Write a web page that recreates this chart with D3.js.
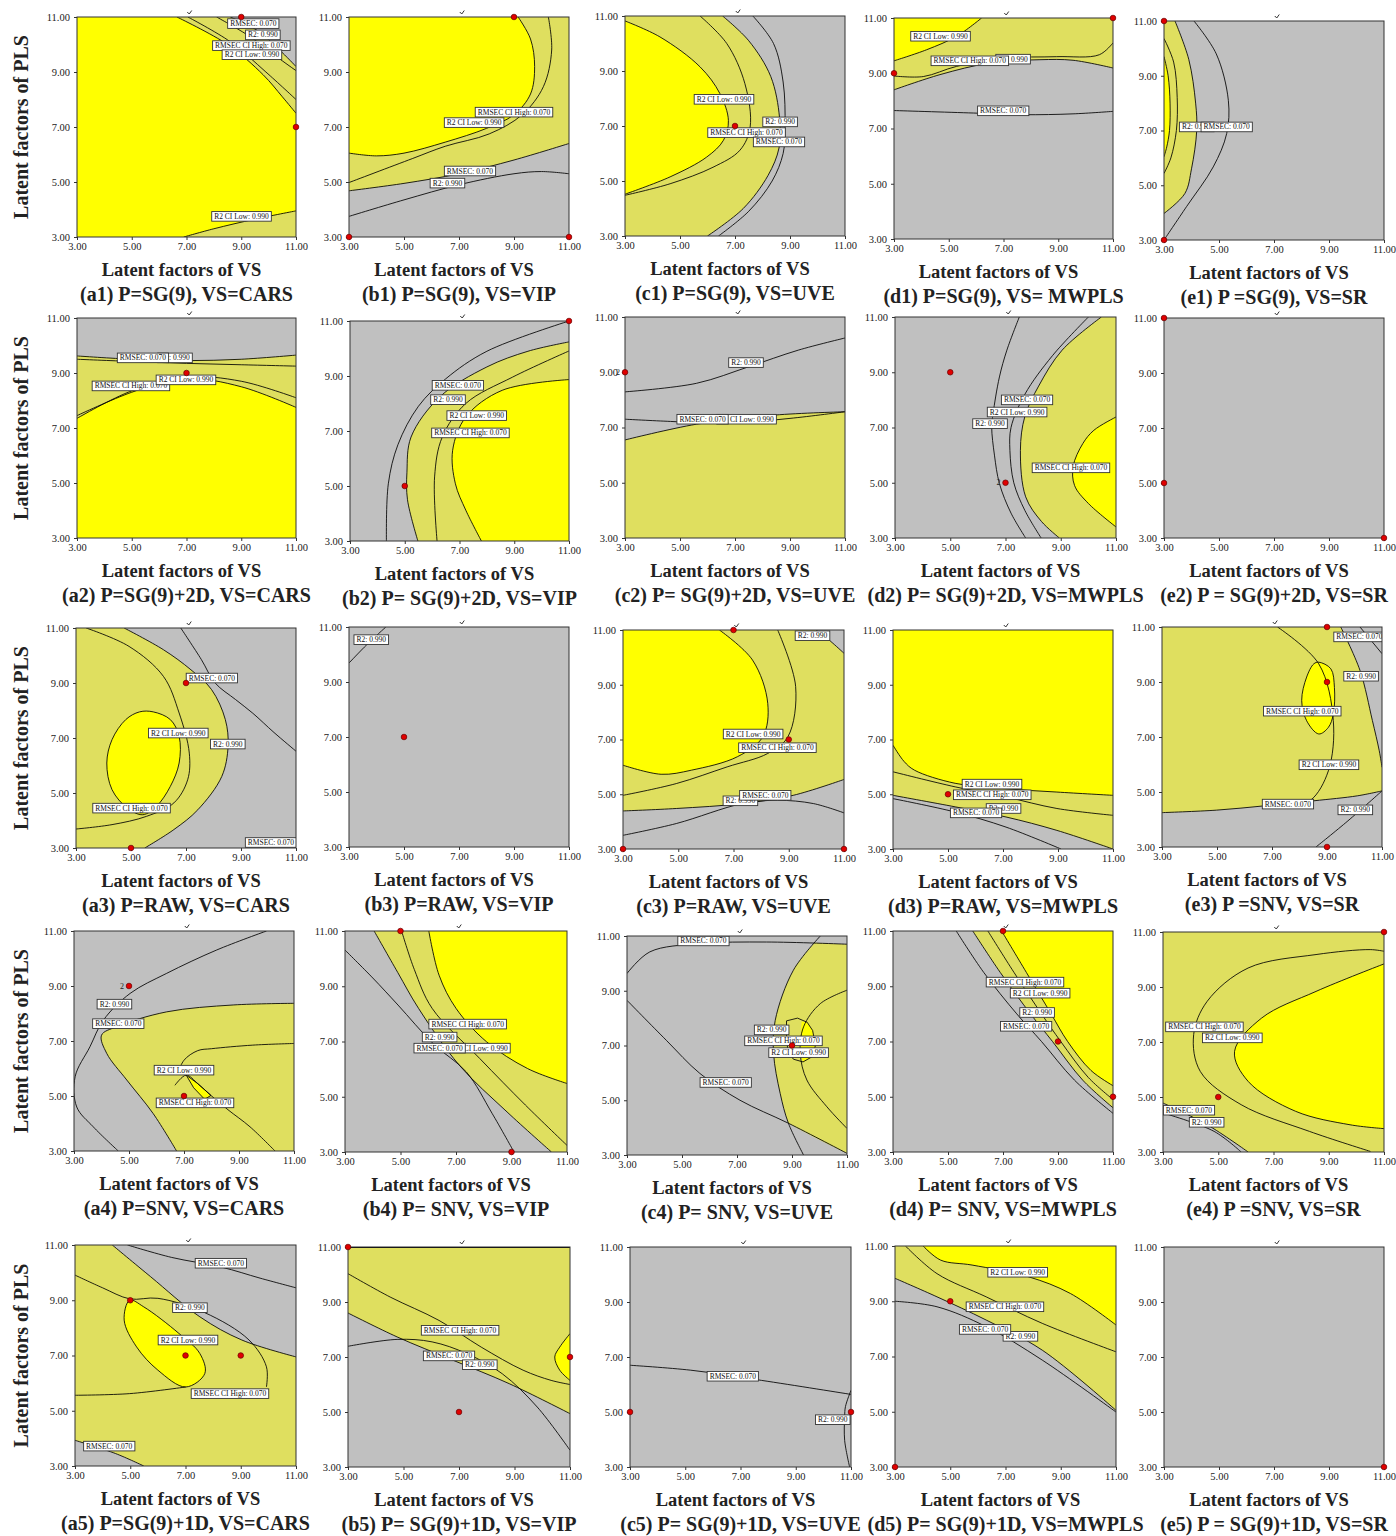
<!DOCTYPE html>
<html><head><meta charset="utf-8">
<script src="https://cdn.jsdelivr.net/npm/d3@7"></script>
<style>body{margin:0;background:#fff}svg{display:block}</style>
</head><body><svg id="chart" width="1396" height="1536"></svg>
<script>
// ================= DATA =================
const panelIds = ["a1","b1","c1","d1","e1","a2","b2","c2","d2","e2","a3","b3","c3","d3","e3","a4","b4","c4","d4","e4","a5","b5","c5","d5","e5"];
const panelTitles = [
 "(a1) P=SG(9), VS=CARS","(b1) P=SG(9), VS=VIP","(c1) P=SG(9), VS=UVE","(d1) P=SG(9), VS= MWPLS","(e1) P =SG(9), VS=SR",
 "(a2) P=SG(9)+2D, VS=CARS","(b2) P= SG(9)+2D, VS=VIP","(c2) P= SG(9)+2D, VS=UVE","(d2) P= SG(9)+2D, VS=MWPLS","(e2) P = SG(9)+2D, VS=SR",
 "(a3) P=RAW, VS=CARS","(b3) P=RAW, VS=VIP","(c3) P=RAW, VS=UVE","(d3) P=RAW, VS=MWPLS","(e3) P =SNV, VS=SR",
 "(a4) P=SNV, VS=CARS","(b4) P= SNV, VS=VIP","(c4) P= SNV, VS=UVE","(d4) P= SNV, VS=MWPLS","(e4) P =SNV, VS=SR",
 "(a5) P=SG(9)+1D, VS=CARS","(b5) P= SG(9)+1D, VS=VIP","(c5) P= SG(9)+1D, VS=UVE","(d5) P= SG(9)+1D, VS=MWPLS","(e5) P = SG(9)+1D, VS=SR"];
const xAxisTitle = "Latent factors of VS";
const yAxisTitle = "Latent factors of PLS";
const axisTicks = [3, 5, 7, 9, 11];
const axisDomain = [3, 11];

// design points (VS factors, PLS factors)
const designPoints = {
 a1:[[9,11],[11,7]], b1:[[9,11],[3,3],[11,3]], c1:[[7,7]], d1:[[3,9],[11,11]], e1:[[3,11],[3,3]],
 a2:[[7,9]], b2:[[11,11],[5,5]], c2:[[3,9]], d2:[[5,9],[7,5]], e2:[[3,11],[3,5],[11,3]],
 a3:[[7,9],[5,3]], b3:[[5,7]], c3:[[7,11],[9,7],[3,3],[11,3]], d3:[[5,5]], e3:[[9,11],[9,9],[9,3]],
 a4:[[5,9],[7,5]], b4:[[5,11],[9,3]], c4:[[9,7]], d4:[[7,11],[9,7],[11,5]], e4:[[11,11],[5,5]],
 a5:[[5,9],[7,7],[9,7]], b5:[[3,11],[7,5],[11,7]], c5:[[3,5],[11,5]], d5:[[3,3],[5,9]], e5:[[11,3]]
};
// replicated design points (marked "2")
const replicateMarks = { c2:[[3,9]], d2:[[7,5]], a4:[[5,9]] };

// background class of each panel: Y = all criteria met, L = partly met, G = not met
const backgrounds = {
 a1:"Y", b1:"L", c1:"G", d1:"G", e1:"G",
 a2:"Y", b2:"G", c2:"G", d2:"G", e2:"G",
 a3:"G", b3:"G", c3:"L", d3:"Y", e3:"L",
 a4:"G", b4:"G", c4:"G", d4:"G", e4:"L",
 a5:"L", b5:"L", c5:"G", d5:"G", e5:"G"
};

// contour lines, in data units (VS, PLS)
const contourLines = {
 a1:{ CL:[[6.65,11],[8.5,10.0],[9.8,8.9],[10.5,8.1],[11,7.5]],
      CH:[[7.05,11],[8.6,10.1],[9.9,9.0],[11,8.0]],
      R2:[[8.1,11],[9.3,10.3],[10.3,9.55],[11,9.05]],
      RM:[[8.6,11],[9.6,10.5],[10.4,9.8],[11,9.2]],
      CL2:[[6.9,3],[8.0,3.3],[9.5,3.65],[11,3.95]] },
 b1:{ CL:[[9.15,11],[9.6,10.2],[9.75,9.2],[9.6,8.2],[9.0,7.45],[8.0,6.95],[6.5,6.45],[5,6.05],[4,5.95],[3,6.05]],
      CH:[[10.25,11],[10.37,9.8],[10.07,8.47],[9.3,7.45],[8.1,6.75],[6.5,6.3],[5.3,5.85],[3,4.98]],
      RM:[[3,4.68],[5,4.95],[7,5.3],[9,5.8],[11,6.4]],
      R2:[[3,3.75],[5,4.35],[7,4.9],[9,5.3],[10,5.38],[11,5.3]] },
 c1:{ CL:[[3,10.82],[4.27,10.24],[5.73,9.15],[6.45,8.18],[6.76,7.2],[6.58,6.48],[5.97,5.87],[4.64,5.15],[3,4.52]],
      CH:[[5.73,11],[6.7,10],[7.36,8.54],[7.55,6.96],[7.18,6.12],[6.2,5.5],[4.64,4.9],[3,4.48]],
      RM:[[6.55,11],[7.5,10.1],[8.3,8.8],[8.62,7.3],[8.6,6.2],[8.2,5.2],[7.3,4.0],[6.0,3]],
      R2:[[7.65,11],[8.4,10],[8.75,8.6],[8.82,7.0],[8.75,6.0],[8.35,5.0],[7.5,3.9],[6.4,3]] },
 d1:{ CL:[[3,9.45],[4.19,9.85],[5.29,10.34],[6.2,11]],
      CH:[[3,8.9],[4.07,8.88],[5.29,9.25],[7.1,9.55],[8.93,9.6],[10.5,9.67],[11,10.1]],
      R2:[[3,8.4],[4.68,8.95],[6.5,9.37],[8.33,9.49],[9.54,9.47],[11,9.19]],
      RM:[[3,7.65],[5.9,7.56],[7.72,7.5],[9.54,7.53],[11,7.62]] },
 e1:{ RM:[[4.09,11],[4.9,9.8],[5.34,8.1],[5.28,6.89],[4.79,5.67],[3.82,4.22],[3,3]],
      R2:[[3.4,11],[3.9,9.6],[4.15,8.0],[4.19,7.0],[4.0,5.6],[3.76,4.7],[3,3.97]],
      CH:[[3,10.36],[3.35,9.5],[3.48,8.2],[3.45,7.0],[3.25,6.0],[3,5.43]],
      CL:[[3,9.7],[3.15,9.0],[3.22,8.0],[3.2,7.0],[3.1,6.4],[3,6.04]] },
 a2:{ RM:[[3,9.62],[5,9.5],[7,9.45],[9,9.5],[11,9.65]],
      R2:[[3,9.5],[5,9.42],[7,9.35],[9,9.3],[11,9.25]],
      CH:[[3,7.45],[5,8.3],[7,8.85],[9,8.7],[11,8.1]],
      CL:[[3,7.35],[5,8.35],[7,8.8],[9,8.5],[11,7.75]] },
 b2:{ R2:[[4.33,3],[4.4,5.08],[4.75,6.5],[5.5,7.9],[6.5,8.9],[8.0,9.9],[11,11]],
      RM:[[5.48,3],[5.1,4.5],[5.08,5.5],[5.23,6.78],[6.28,8.24],[8.0,9.33],[9.5,9.9],[11,10.24]],
      CL:[[6.18,3],[6.09,5.33],[6.37,6.78],[7.23,8.0],[8.94,8.96],[11,9.91]],
      CH:[[7.8,3],[7.23,4.12],[6.85,5.08],[6.75,6.3],[7.23,7.51],[8.56,8.48],[11,8.87]] },
 c2:{ R2:[[3,8.29],[5.6,8.6],[7.5,9.2],[9.3,9.8],[11,10.24]],
      RM:[[3,7.3],[4.65,7.22],[6.73,7.15],[9,7.33],[11,7.57]],
      CL:[[3,6.55],[5.6,7.12],[8.44,7.45],[11,7.57]] },
 d2:{ R2:[[7.5,11],[7.05,9.8],[6.78,8.83],[6.55,7.5],[6.5,7.02],[6.6,6.0],[6.78,4.97],[7.2,3.9],[7.73,3]],
      CL:[[10.0,11],[8.7,9.6],[7.7,8.2],[7.2,7.0],[7.16,6.17],[7.3,5.0],[7.7,4.0],[8.29,3]],
      RM:[[10.47,11],[9.05,9.8],[8.2,8.5],[7.7,7.4],[7.54,6.17],[7.73,4.49],[8.3,3.6],[8.95,3]],
      CH:[[11,7.38],[10.2,6.9],[9.8,6.42],[9.45,5.6],[9.5,4.9],[10,4.25],[11,3.4]] },
 e2:{},
 a3:{ R2:[[4.75,11],[6.18,10.21],[7.18,9.48],[7.93,8.76],[8.43,7.67],[8.53,6.7],[8.3,5.6],[7.43,4.39],[6.56,3.67],[5.5,3]],
      RM:[[6.81,11],[7.56,9.85],[8.06,9.0],[8.8,8.4],[9.43,7.9],[10.2,7.2],[11,6.52]],
      CL:[[3.37,11],[4.93,10.33],[6.18,9.24],[6.75,7.91],[7.12,6.45],[7.06,5.48],[6.56,4.64],[5.56,4.15],[4.31,3.85],[3,3.69]],
      CH:[[5.81,7.95],[6.43,7.67],[6.75,7.06],[6.75,6.09],[6.43,5.24],[5.93,4.52],[5.43,4.21],[4.87,4.45],[4.31,5.12],[4.12,6.09],[4.31,6.94],[4.81,7.67],[5.31,7.95],[5.81,7.95]] },
 b3:{ R2:[[3,9.69],[3.65,10.36],[4.34,11]] },
 c3:{ CL:[[6.49,11],[7.69,9.9],[8.24,8.32],[8.06,7.1],[7.14,6.37],[5.48,5.88],[4.38,5.73],[3,6.06]],
      CH:[[8.6,11],[9.25,8.93],[8.97,7.1],[8.24,6.49],[6.77,6.0],[4.93,5.39],[3,4.96]],
      RM:[[3,4.39],[4.93,4.48],[7.32,4.66],[9.16,4.96],[11,5.54]],
      R2:[[3,3.5],[4.93,3.93],[7.32,4.66],[8.6,4.78],[9.89,4.66],[11,4.32]],
      R2b:[[9.99,11],[10.5,10.6],[11,10.15]] },
 d3:{ CL:[[3,6.79],[3.4,6.2],[3.78,5.88],[5.26,5.4],[7.11,5.2],[8.96,5.08],[11,4.96]],
      CH:[[3,5.82],[5.26,5.27],[7.11,4.9],[8.96,4.48],[11,4.23]],
      R2:[[3,4.96],[5.26,4.54],[7.11,4.17],[8.96,3.68],[11,3]],
      RM:[[3,4.84],[5.26,4.35],[7.11,3.8],[9.11,3]] },
 e3:{ RM:[[3,4.25],[4.98,4.34],[6.75,4.5],[8.52,4.68],[10.1,4.86],[11,5.04]],
      R2:[[9.5,11],[10.2,9.42],[10.65,7.6],[10.9,6.5],[11,5.9]],
      R2b:[[8.6,3],[9.76,3.95],[11,5.04]],
      RMb:[[10.2,11],[11,10.03]],
      CL:[[7.2,11],[8.7,9.66],[9.23,7.6],[9.05,5.77],[8.4,4.7],[7.6,4.5]],
      CH:[[8.7,9.72],[9.14,9.48],[9.27,8.8],[9.23,7.83],[9.05,7.35],[8.7,7.11],[8.26,7.59],[8.08,8.33],[8.26,9.18],[8.52,9.66],[8.7,9.72]] },
 a4:{ RM:[[11,8.37],[8.79,8.31],[6.37,8.06],[4.55,7.52],[4.0,7.21],[4.19,6.55],[4.92,5.58],[5.88,4.36],[6.73,3]],
      R2:[[10.0,11],[8.19,10.31],[6.37,9.46],[5.04,8.73],[4.07,7.76],[3.58,6.79],[3.04,5.7],[3.1,4.6],[3.7,3.88],[4.61,3]],
      CL:[[11,6.91],[9.5,6.85],[8.0,6.72],[7.5,6.65],[7.0,6.3],[6.85,5.9],[7.08,5.76]],
      CH:[[6.67,5.39],[7.08,5.76],[7.5,5.45],[7.98,5.02],[8.6,4.5],[9.4,3.88],[10.31,3]],
      _Y:[[7.08,5.76],[7.5,5.45],[7.98,5.02],[7.75,4.88],[7.35,5.3],[7.08,5.76]] },
 b4:{ R2:[[3,10.31],[4.0,9.3],[4.91,8.32],[6.2,6.9],[7.37,5.9],[8.3,4.4],[9.09,3]],
      RM:[[4.05,11],[4.9,9.5],[5.65,8.2],[7.12,6.14],[8.84,4.45],[10.44,3]],
      CH:[[5.04,11],[5.5,9.6],[6.14,8.2],[7.86,6.38],[9.5,4.7],[11,3.24]],
      CL:[[6.02,11],[6.39,9.4],[7.0,8.2],[8.1,6.99],[9.58,6.02],[11,5.48]] },
 c4:{ RMt:[[3,9.63],[3.83,10.42],[5.65,10.72],[8.08,10.78],[11,10.7]],
      RMl:[[3,8.65],[4.43,7.19],[5.65,5.98],[7.11,5.0],[8.87,4.16],[11,3.06]],
      R2:[[10.03,11],[9.05,9.75],[8.39,7.92],[8.33,6.71],[8.57,5.25],[8.87,4.16],[9.42,3]],
      CL:[[11,9.02],[10.03,8.53],[9.42,7.68],[9.3,6.71],[9.54,5.74],[10.27,4.76],[11,3.97]],
      _CH:[[8.8,7.9],[9.2,8.0],[9.55,7.85],[9.75,7.55],[9.85,7.0],[9.75,6.6],[9.4,6.4],[9.05,6.5],[8.85,6.8],[8.8,7.3],[8.8,7.9]] },
 d4:{ RM:[[5.3,11],[6.3,9.5],[7.5,8.0],[8.4,7.0],[9.6,5.6],[11,4.4]],
      R2:[[5.9,11],[6.9,9.5],[8.0,8.0],[8.8,7.0],[9.9,5.6],[11,4.6]],
      CH:[[6.45,11],[7.4,9.5],[8.4,8.0],[9.1,7.0],[10.1,5.7],[11,4.9]],
      CL:[[6.95,11],[7.85,9.5],[8.75,8.0],[9.35,7.0],[10.2,5.95],[11,5.4]] },
 e4:{ CL:[[11,9.84],[8.54,8.84],[6.57,7.87],[5.59,6.66],[6.08,5.57],[7.8,4.48],[9.77,3.99],[11,3.85]],
      CH:[[11,10.3],[10.5,10.36],[8.54,10.18],[6.08,9.69],[4.6,8.48],[4.11,7.27],[4.35,5.93],[5.83,4.72],[8.3,3.75],[10.51,3.02]],
      RM:[[3,4.78],[4.6,3.99],[6.08,3]],
      R2:[[3,4.42],[4.85,3.75],[5.83,3]] },
 a5:{ R2:[[4.35,11],[5.74,9.85],[7.52,8.4],[9.04,7.56],[11,6.95]],
      RM:[[4.9,11],[6.5,10.55],[8.3,10.2],[9.7,9.8],[11,9.45]],
      CH:[[3,9.91],[4.0,9.45],[4.98,9.05],[6.0,9.07],[7.7,8.55],[9.3,7.56],[9.93,6.59],[9.93,5.86]],
      CHb:[[3,5.56],[4.98,5.62],[7.01,5.86]],
      CL:[[4.98,9.0],[5.49,8.76],[6.76,7.8],[7.52,7.07],[7.7,6.35],[7.01,5.86],[6.0,6.47],[5.23,7.31],[4.78,8.28],[4.98,9.0]],
      RMb:[[3,3.93],[4.47,3.45],[5.49,3]] },
 b5:{ TOP:[[3,11],[11,11]],
      CH:[[3,10.03],[4.52,9.18],[6.28,8.33],[7.8,7.36],[9.31,6.52],[10.32,6.15],[11,6.0]],
      RM:[[3,8.6],[4.77,7.73],[6.79,6.88],[8.81,6.03],[11,4.94]],
      R2:[[3,7.39],[4.77,7.64],[6.03,7.55],[7.29,7.12],[8.56,6.39],[9.82,5.18],[11,3.61]],
      CL:[[11,7.85],[10.63,7.36],[10.45,7.0],[10.63,6.52],[11,6.15]] },
 c5:{ RM:[[3,6.7],[5.2,6.52],[7.76,6.15],[11,5.64]],
      R2:[[11,5.79],[10.8,5.2],[10.77,4.82],[10.77,3.97],[10.95,3]] },
 d5:{ CL:[[4.02,11],[4.65,10.49],[5.79,10.31],[7.82,9.89],[9.35,9.28],[11,8.14]],
      CH:[[3.38,11],[4.52,10.0],[6.3,9.16],[8.33,8.2],[11,7.17]],
      R2:[[3,9.83],[4.52,9.16],[6.3,8.32],[8.33,7.23],[11,5.05]],
      RM:[[3,9.0],[4.52,8.8],[6.3,8.08],[8.33,6.87],[11,4.99]] },
 e5:{}
};

// shaded regions: pieces are contour names ("-" = reversed), corner points, or inline curves
const fillRegions = {
 a1:[{c:"L",p:["CL",[11,11]]},{c:"G",p:["RM",[11,11]]},{c:"L",p:["CL2",[11,3]]}],
 b1:[{c:"G",p:["RM",[11,3],[3,3]]},{c:"Y",p:["CL",[3,11]]}],
 c1:[{c:"L",p:["RM",[3,3],[3,11]]},{c:"Y",p:["CL"]}],
 d1:[{c:"L",p:["R2",[11,11],[3,11]]},{c:"Y",p:["CL",[3,11]]}],
 e1:[{c:"L",p:["R2",[3,11]]},{c:"Y",p:["CL"]}],
 a2:[{c:"G",p:["RM",[11,11],[3,11]]},{c:"L",p:["RM","-CL"]}],
 b2:[{c:"L",p:["RM",[11,3]]},{c:"Y",p:["CH",[11,3]]}],
 c2:[{c:"L",p:["CL",[11,3],[3,3]]}],
 d2:[{c:"L",p:["RM",[11,3],[11,11]]},{c:"Y",p:["CH"]}],
 e2:[],
 a3:[{c:"L",p:["R2",[3,3],[3,11]]},{c:"Y",p:["CH"]}],
 b3:[],
 c3:[{c:"Y",p:["CL",[3,11]]},{c:"G",p:["RM",[11,3],[3,3]]},{c:"G",p:["R2b",[11,11]]}],
 d3:[{c:"L",p:["CL","-R2"]},{c:"G",p:["R2",[3,3]]}],
 e3:[{c:"G",p:["RM",[11,3],[3,3]]},{c:"G",p:["R2",[11,11]]},{c:"Y",p:["CH"]}],
 a4:[{c:"L",p:["RM",[11,3]]},{c:"Y",p:["_Y"]}],
 b4:[{c:"L",p:["RM",[11,3],[11,11]]},{c:"Y",p:["CL",[11,11]]}],
 c4:[{c:"L",p:[[[9.83,10.75],[10.4,10.72],[11,10.7]],[11,3.06],[[11,3.06],[9.9,3.6],[8.87,4.16]],[[8.87,4.16],[8.57,5.25],[8.33,6.71],[8.39,7.92],[9.05,9.75],[9.83,10.75]]]},
     {c:"Y",lin:true,p:[[[9.35,7.88],[9.55,7.85],[9.75,7.55],[9.85,7.0],[9.75,6.6],[9.4,6.4],[9.3,6.71],[9.32,7.3],[9.35,7.88]]]}],
 d4:[{c:"L",p:["R2",[11,11]]},{c:"Y",p:["CL",[11,11]]}],
 e4:[{c:"Y",p:["CL"]},{c:"G",p:["RM",[3,3]]}],
 a5:[{c:"G",p:["R2",[11,11]]},{c:"G",p:["RMb",[3,3]]},{c:"Y",p:["CL"]}],
 b5:[{c:"G",p:["RM",[11,3],[3,3]]},{c:"Y",p:["CL"]}],
 c5:[],
 d5:[{c:"L",p:["R2",[11,11],[3,11]]},{c:"Y",p:["CL",[11,11]]}],
 e5:[]
};

// contour labels: [text, VS, PLS] (label centre), drawn in order
const contourLabels = {
 a1:[["RMSEC: 0.070",9.44,10.76],["R2: 0.990",9.79,10.35],["RMSEC CI High: 0.070",9.37,9.96],["R2 CI Low: 0.990",9.39,9.63],["R2 CI Low: 0.990",9.01,3.75]],
 b1:[["RMSEC CI High: 0.070",9.0,7.54],["R2 CI Low: 0.990",7.55,7.16],["RMSEC: 0.070",7.4,5.4],["R2: 0.990",6.58,4.96]],
 c1:[["R2 CI Low: 0.990",6.6,7.97],["R2: 0.990",8.64,7.15],["RMSEC CI High: 0.070",7.42,6.76],["RMSEC: 0.070",8.6,6.42]],
 d1:[["R2 CI Low: 0.990",4.7,10.34],["R2: 0.990",7.35,9.51],["RMSEC CI High: 0.070",5.77,9.45],["RMSEC: 0.070",6.99,7.64]],
 e1:[["R2: 0.990",4.19,7.13],["RMSEC: 0.070",5.28,7.13]],
 a2:[["R2: 0.990",6.58,9.55],["RMSEC: 0.070",5.41,9.55],["RMSEC CI High: 0.070",4.97,8.53],["R2 CI Low: 0.990",6.98,8.75]],
 b2:[["RMSEC: 0.070",6.94,8.66],["R2: 0.990",6.58,8.14],["R2 CI Low: 0.990",7.63,7.56],["RMSEC CI High: 0.070",7.4,6.93]],
 c2:[["R2: 0.990",7.4,9.35],["R2 CI Low: 0.990",7.42,7.3],["RMSEC: 0.070",5.82,7.3]],
 d2:[["RMSEC: 0.070",7.78,8.0],["R2 CI Low: 0.990",7.42,7.56],["R2: 0.990",6.44,7.14],["RMSEC CI High: 0.070",9.37,5.54]],
 e2:[],
 a3:[["RMSEC: 0.070",7.94,9.18],["R2 CI Low: 0.990",6.72,7.18],["R2: 0.990",8.52,6.78],["RMSEC CI High: 0.070",5.02,4.45],["RMSEC: 0.070",10.09,3.2]],
 b3:[["R2: 0.990",3.81,10.54]],
 c3:[["R2: 0.990",9.86,10.79],["R2 CI Low: 0.990",7.71,7.2],["RMSEC CI High: 0.070",8.59,6.7],["R2: 0.990",7.25,4.76],["RMSEC: 0.070",8.15,4.96]],
 d3:[["R2 CI Low: 0.990",6.6,5.37],["R2: 0.990",7.02,4.48],["RMSEC CI High: 0.070",6.61,4.98],["RMSEC: 0.070",6.02,4.32]],
 e3:[["RMSEC: 0.070",10.18,10.64],["R2: 0.990",10.24,9.21],["RMSEC CI High: 0.070",8.1,7.94],["R2 CI Low: 0.990",9.07,5.99],["RMSEC: 0.070",7.58,4.56],["R2: 0.990",10.03,4.35]],
 a4:[["R2: 0.990",4.47,8.34],["RMSEC: 0.070",4.61,7.63],["R2 CI Low: 0.990",7.0,5.94],["RMSEC CI High: 0.070",7.4,4.75]],
 b4:[["RMSEC CI High: 0.070",7.42,7.63],["R2: 0.990",6.41,7.16],["R2 CI Low: 0.990",7.88,6.76],["RMSEC: 0.070",6.41,6.76]],
 c4:[["RMSEC: 0.070",5.78,10.82],["R2: 0.990",8.26,7.57],["RMSEC CI High: 0.070",8.69,7.17],["R2 CI Low: 0.990",9.24,6.74],["RMSEC: 0.070",6.59,5.65]],
 d4:[["RMSEC CI High: 0.070",7.8,9.15],["R2 CI Low: 0.990",8.35,8.75],["R2: 0.990",8.24,8.05],["RMSEC: 0.070",7.84,7.55]],
 e4:[["RMSEC CI High: 0.070",4.5,7.55],["R2 CI Low: 0.990",5.51,7.15],["RMSEC: 0.070",3.94,4.52],["R2: 0.990",4.58,4.08]],
 a5:[["RMSEC: 0.070",8.28,10.34],["R2: 0.990",7.16,8.73],["R2 CI Low: 0.990",7.09,7.56],["RMSEC CI High: 0.070",8.61,5.62],["RMSEC: 0.070",4.24,3.72]],
 b5:[["RMSEC CI High: 0.070",7.04,7.97],["RMSEC: 0.070",6.64,7.04],["R2: 0.990",7.75,6.72]],
 c5:[["RMSEC: 0.070",6.72,6.3],["R2: 0.990",10.34,4.72]],
 d5:[["R2 CI Low: 0.990",7.44,10.05],["RMSEC CI High: 0.070",6.98,8.8],["R2: 0.990",7.54,7.73],["RMSEC: 0.070",6.26,7.98]],
 e5:[]
};

// ================= LAYOUT / STYLE =================
const panelBoxes = {
 a1:[77,17,296,237], b1:[349,17,569,237], c1:[625,16,845,236], d1:[894,18,1113,239], e1:[1164,21,1384,240],
 a2:[77,318,296,538], b2:[350,321,569,541], c2:[625,317,845,538], d2:[895,317,1116,538], e2:[1164,318,1384,538],
 a3:[76,628,296,848], b3:[349,627,569,847], c3:[623,630,844,849], d3:[893,630,1113,849], e3:[1162,627,1382,847],
 a4:[74,931,294,1151], b4:[345,931,567,1152], c4:[627,936,847,1155], d4:[893,931,1113,1152], e4:[1163,932,1384,1152],
 a5:[75,1245,296,1466], b5:[348,1247,570,1467], c5:[630,1247,851,1467], d5:[895,1246,1116,1467], e5:[1164,1247,1384,1467]
};
const COLORS = { Y:"#ffff00", L:"#dfdf5f", G:"#c0c0c0" };
const SERIF = "'Liberation Serif','Times New Roman',Times,serif";

// ================= DRAW =================
const svg = d3.select("#chart");
const defs = svg.append("defs");

function getPiece(pc, lines) {
  if (typeof pc === "string") {
    const rev = pc[0] === "-";
    const name = rev ? pc.slice(1) : pc;
    let pts = lines[name].slice();
    if (rev) pts.reverse();
    return { pts, lin: name[0] === "_" };
  }
  if (typeof pc[0] === "number") return { pts: [pc], lin: true };
  return { pts: pc, lin: false };
}
function isClosed(p) {
  const a = p[0], b = p[p.length - 1];
  return p.length > 3 && a[0] === b[0] && a[1] === b[1];
}
function curvePath(pts, sx, sy, lin) {
  if (pts.length === 1) return `M${sx(pts[0][0])},${sy(pts[0][1])}`;
  const g = d3.line().x(d => sx(d[0])).y(d => sy(d[1]));
  if (pts.length < 3 || lin) return g.curve(d3.curveLinear)(pts);
  if (isClosed(pts)) return g.curve(d3.curveCatmullRomClosed.alpha(0.5))(pts.slice(0, -1));
  return g.curve(d3.curveCatmullRom.alpha(0.5))(pts);
}
function regionPath(reg, lines, sx, sy) {
  let d = "";
  reg.p.forEach(pc => {
    const { pts, lin } = getPiece(pc, lines);
    let seg = curvePath(pts, sx, sy, lin || reg.lin).replace(/Z/g, "");
    if (d) seg = "L" + seg.slice(1);
    d += seg;
  });
  return d + "Z";
}

panelIds.forEach((id, i) => {
  const [x0, y0, x1, y1] = panelBoxes[id];
  const sx = d3.scaleLinear().domain(axisDomain).range([x0, x1]);
  const sy = d3.scaleLinear().domain(axisDomain).range([y1, y0]);
  const lines = contourLines[id];
  const g = svg.append("g");

  defs.append("clipPath").attr("id", "clip-" + id)
    .append("rect").attr("x", x0).attr("y", y0).attr("width", x1 - x0).attr("height", y1 - y0);
  const plot = g.append("g").attr("clip-path", `url(#clip-${id})`);

  plot.append("rect").attr("x", x0).attr("y", y0).attr("width", x1 - x0).attr("height", y1 - y0)
    .attr("fill", COLORS[backgrounds[id]]);

  fillRegions[id].forEach(reg => {
    plot.append("path").attr("d", regionPath(reg, lines, sx, sy)).attr("fill", COLORS[reg.c]).attr("stroke", "none");
  });

  Object.keys(lines).forEach(name => {
    const pts = lines[name];
    plot.append("path").attr("d", curvePath(pts, sx, sy, name[0] === "_"))
      .attr("fill", "none").attr("stroke", "#000")
      .attr("stroke-width", name === "TOP" ? 2.2 : 0.85);
  });

  // contour labels
  contourLabels[id].forEach(([txt, lx, ly]) => {
    const lg = plot.append("g");
    const t = lg.append("text").attr("x", sx(lx)).attr("y", sy(ly))
      .attr("text-anchor", "middle").attr("dominant-baseline", "central")
      .attr("font-family", SERIF).attr("font-size", 7.5).attr("fill", "#111").text(txt);
    const w = t.node().getComputedTextLength();
    lg.insert("rect", "text").attr("x", sx(lx) - w / 2 - 2.5).attr("y", sy(ly) - 4.8)
      .attr("width", w + 5).attr("height", 9.6)
      .attr("fill", "#fff").attr("stroke", "#333").attr("stroke-width", 0.9);
  });

  // frame
  g.append("rect").attr("x", x0).attr("y", y0).attr("width", x1 - x0).attr("height", y1 - y0)
    .attr("fill", "none").attr("stroke", "#333").attr("stroke-width", 1);

  // small mark above the frame
  const mx = sx(7.1), my = y0 - 4;
  g.append("path").attr("d", `M${mx - 2},${my - 1}L${mx},${my + 1}L${mx + 2.5},${my - 2.5}`)
    .attr("fill", "none").attr("stroke", "#333").attr("stroke-width", 1);

  // axes
  const fmt = d3.format(".2f");
  const ax = g.append("g").attr("transform", `translate(0,${y1})`)
    .call(d3.axisBottom(sx).tickValues(axisTicks).tickFormat(fmt).tickSize(3).tickPadding(3));
  const ay = g.append("g").attr("transform", `translate(${x0},0)`)
    .call(d3.axisLeft(sy).tickValues(axisTicks).tickFormat(fmt).tickSize(3).tickPadding(4));
  [ax, ay].forEach(a => {
    a.select(".domain").remove();
    a.selectAll("text").attr("font-family", SERIF).attr("font-size", 10.5).attr("fill", "#222");
    a.selectAll("line").attr("stroke", "#333");
  });

  // design points
  (replicateMarks[id] || []).forEach(([px, py]) => {
    g.append("text").attr("x", sx(px) - 5).attr("y", sy(py)).attr("text-anchor", "end")
      .attr("dominant-baseline", "central").attr("font-family", SERIF).attr("font-size", 8).attr("fill", "#222").text("2");
  });
  designPoints[id].forEach(([px, py]) => {
    g.append("circle").attr("cx", sx(px)).attr("cy", sy(py)).attr("r", 2.8)
      .attr("fill", "#e00000").attr("stroke", "#600").attr("stroke-width", 0.7);
  });

  // titles
  const cx = (x0 + x1) / 2;
  g.append("text").attr("x", cx - 5).attr("y", y1 + 39).attr("text-anchor", "middle")
    .attr("font-family", SERIF).attr("font-weight", "bold").attr("font-size", 18.5).attr("fill", "#222").text(xAxisTitle);
  g.append("text").attr("x", cx).attr("y", y1 + 64).attr("text-anchor", "middle")
    .attr("font-family", SERIF).attr("font-weight", "bold").attr("font-size", 20).attr("fill", "#222").text(panelTitles[i]);
  if (id[0] === "a") {
    const cy = (y0 + y1) / 2;
    g.append("text").attr("transform", `translate(28,${cy}) rotate(-90)`).attr("text-anchor", "middle")
      .attr("font-family", SERIF).attr("font-weight", "bold").attr("font-size", 20).attr("fill", "#222").text(yAxisTitle);
  }
});
</script>
</body></html>
